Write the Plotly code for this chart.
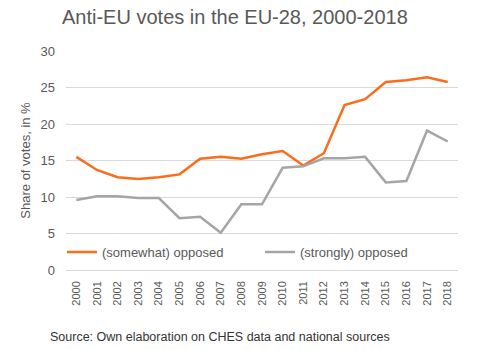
import plotly.graph_objects as go

years = [str(y) for y in range(2000, 2019)]
somewhat = [15.5, 13.7, 12.7, 12.45, 12.7, 13.1, 15.25, 15.5, 15.25, 15.85, 16.3, 14.3,
            16.0, 22.6, 23.4, 25.75, 26.0, 26.4, 25.75]
strongly = [9.6, 10.1, 10.1, 9.85, 9.85, 7.1, 7.3, 5.1, 9.0, 9.0, 14.0, 14.2,
            15.3, 15.3, 15.5, 12.0, 12.2, 19.1, 17.6]
yticks = [0, 5, 10, 15, 20, 25, 30]

font = "Liberation Sans, Arial, sans-serif"
fig = go.Figure()
fig.add_trace(go.Scatter(x=years, y=somewhat, mode="lines", name="(somewhat) opposed",
                         line=dict(color="#F96D1C", width=2.5), legend="legend"))
fig.add_trace(go.Scatter(x=years, y=strongly, mode="lines", name="(strongly) opposed",
                         line=dict(color="#A5A5A5", width=2.5), legend="legend2"))

W = 392
leg_common = dict(orientation="h", yanchor="middle", y=0.082, xanchor="left",
                  bgcolor="rgba(0,0,0,0)", font=dict(size=13, color="#595959"),
                  itemwidth=30)
fig.update_layout(
    width=503, height=350,
    margin=dict(l=66, r=45, t=51, b=80),
    paper_bgcolor="white", plot_bgcolor="white",
    font=dict(family=font, color="#595959", size=12),
    title=dict(text="Anti-EU votes in the EU-28, 2000-2018", x=62/503, xanchor="left",
               y=1-17/350, yanchor="middle", font=dict(size=20, color="#595959")),
    showlegend=True,
    legend=dict(x=-4/W, **leg_common),
    legend2=dict(x=194/W, **leg_common),
    xaxis=dict(type="category", tickangle=-90, showgrid=False, showline=False,
               ticks="", tickfont=dict(size=11), range=[-0.5, 18.5],
               ticklabelstandoff=8),
    yaxis=dict(range=[0, 30], tickvals=yticks, showgrid=True, gridcolor="#D9D9D9",
               zeroline=True, zerolinecolor="#D9D9D9", zerolinewidth=1, ticks="",
               ticklabelstandoff=10,
               title=dict(text="Share of votes, in %", font=dict(size=13), standoff=6),
               tickfont=dict(size=13)),
    annotations=[dict(text="Source: Own elaboration on CHES data and national sources",
                      xref="paper", yref="paper", x=-18/W, y=-67/219, xanchor="left",
                      yanchor="middle", showarrow=False, font=dict(size=12.5, color="#333333"))],
)

fig.write_html("out.html")
